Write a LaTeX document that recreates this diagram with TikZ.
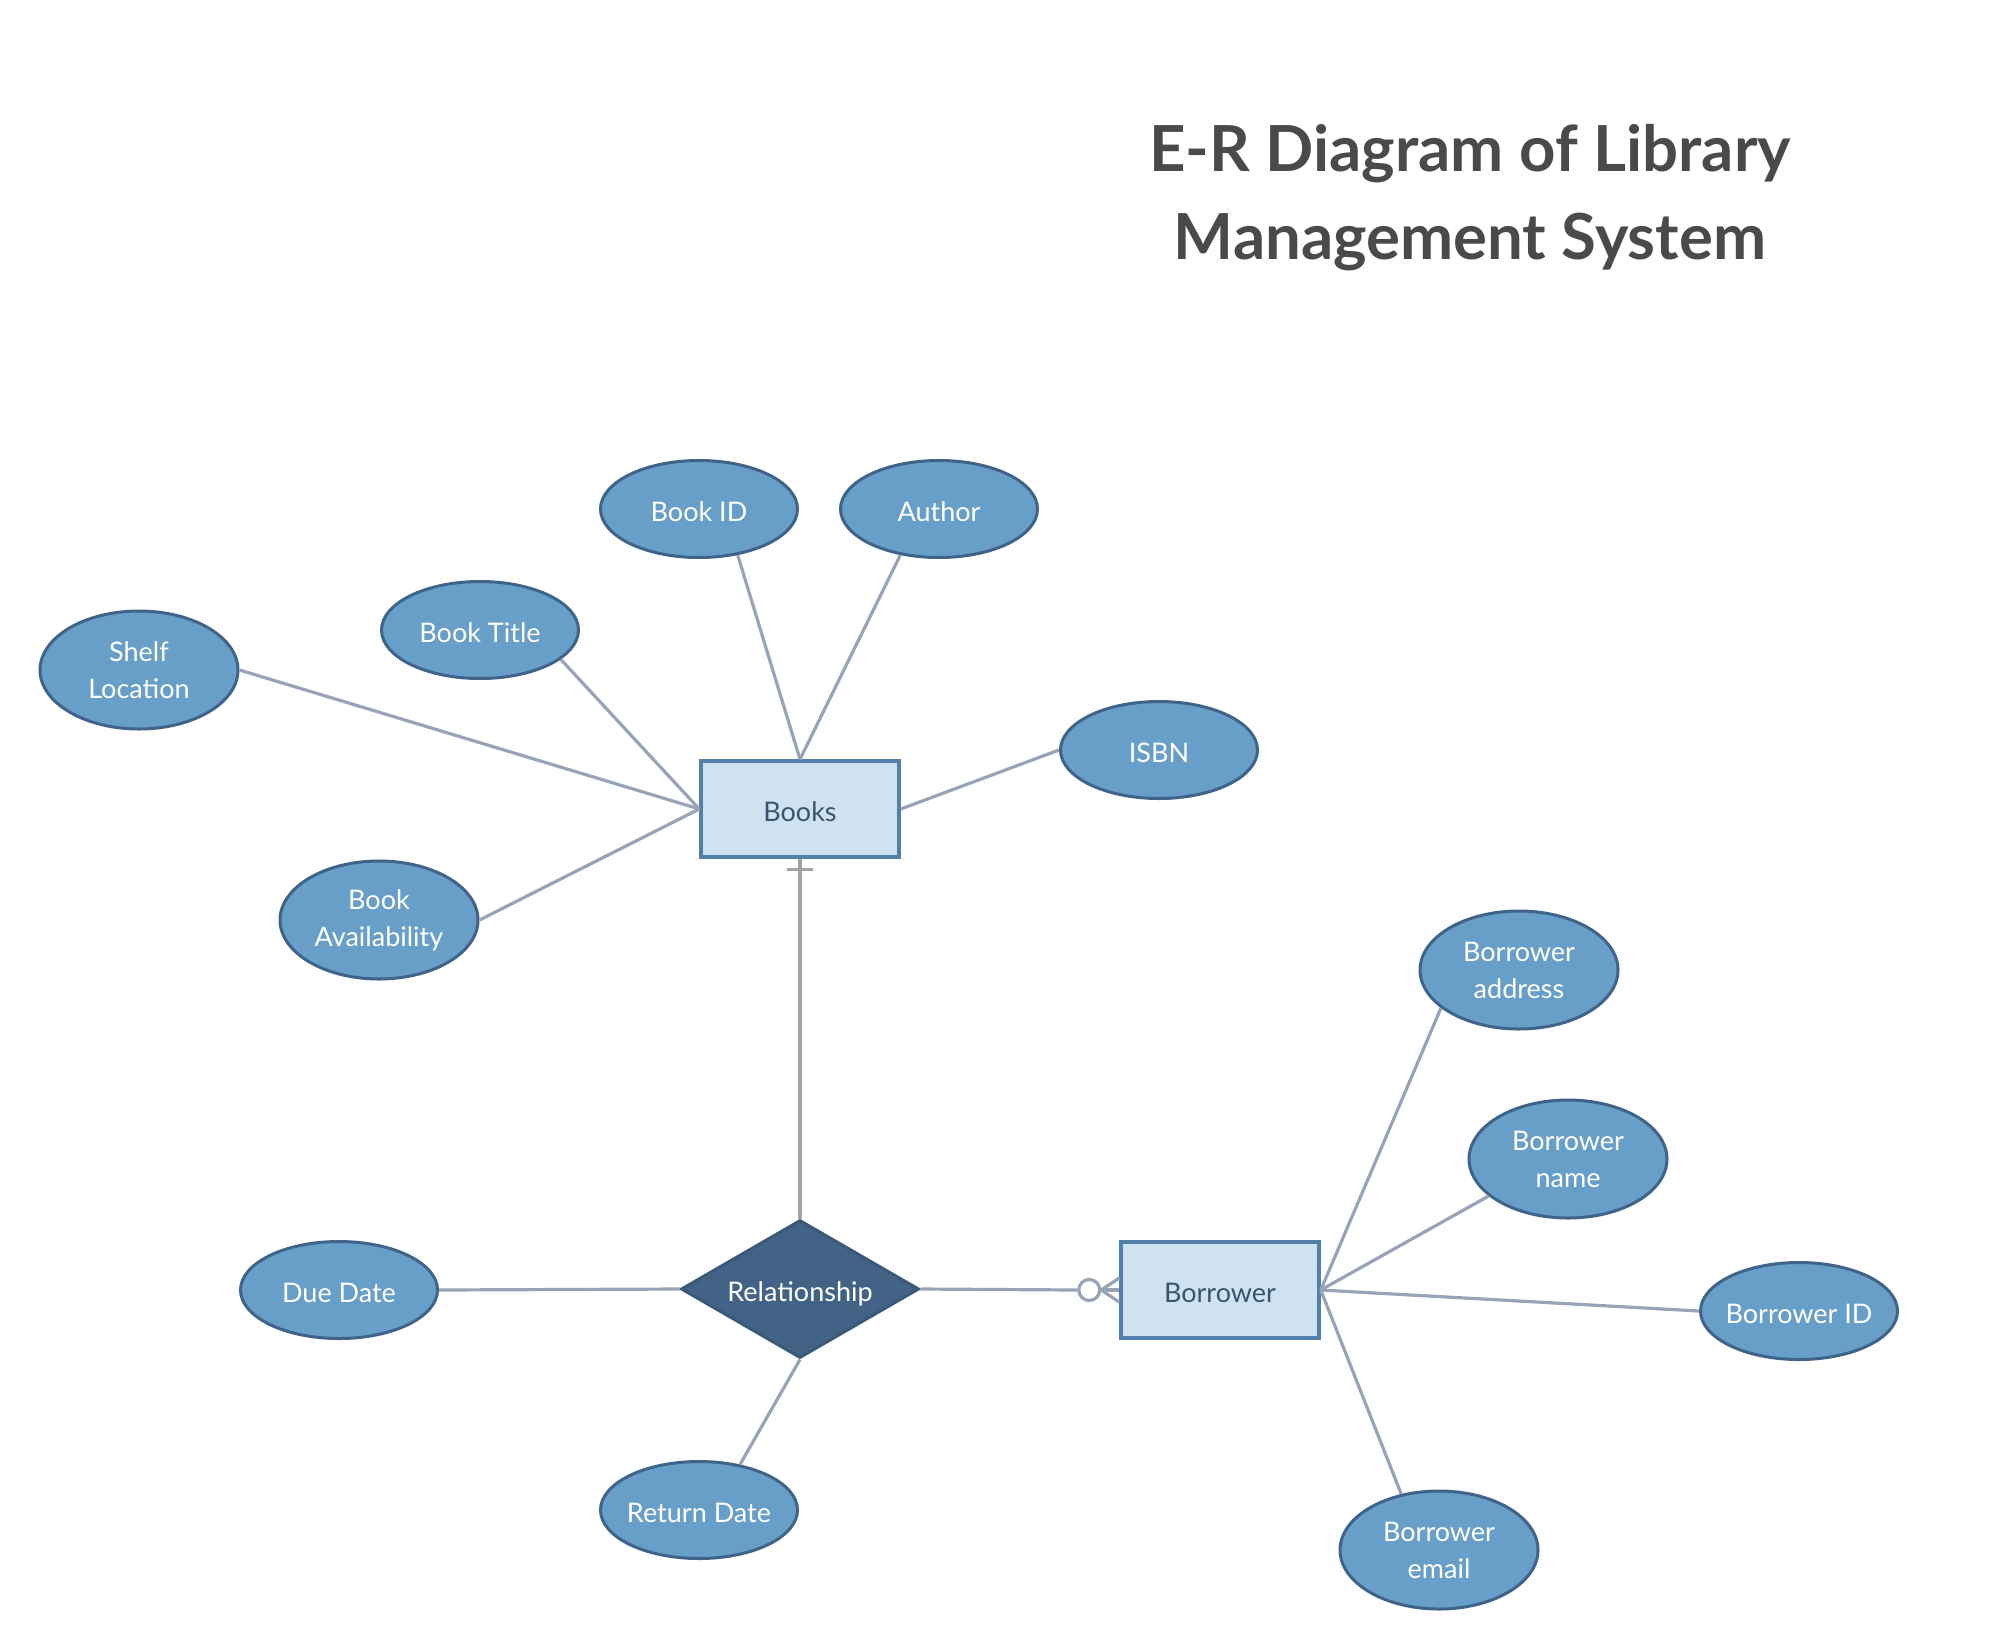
\documentclass[tikz,border=0pt]{standalone}
\usepackage{fontspec}
\setmainfont{Lato}
\usetikzlibrary{shapes.geometric,calc}
\definecolor{attrfill}{HTML}{679FC8}
\definecolor{attrborder}{HTML}{3F6389}
\definecolor{entfill}{HTML}{CFE2F0}
\definecolor{entborder}{HTML}{5280AA}
\definecolor{enttext}{HTML}{3A5470}
\definecolor{relfill}{HTML}{426385}
\definecolor{relborder}{HTML}{3A5A7A}
\definecolor{conncol}{HTML}{98A3B6}
\definecolor{onecol}{HTML}{A3A3A3}
\definecolor{titlecol}{HTML}{4A4A4A}
\tikzset{
  attrtwo/.style={ellipse, draw=attrborder, fill=attrfill, line width=3pt,
    minimum width=198pt, minimum height=118pt, inner ysep=0pt, inner xsep=-15pt, text=white,
    font=\fontsize{27}{37}\selectfont, align=center},
  attr/.style={attrtwo, minimum width=197pt, minimum height=97pt,
    text height=25.5pt, text depth=0pt},
  entity/.style={rectangle, draw=entborder, fill=entfill, line width=3.5pt,
    minimum width=198pt, minimum height=96pt, inner sep=0pt, text=enttext,
    font=\fontsize{27}{34}\selectfont, text height=25.5pt, text depth=0pt},
  rel/.style={diamond, draw=relborder, fill=relfill, line width=3pt,
    minimum width=238pt, minimum height=138pt, inner sep=0pt, aspect=1.72, text=white,
    font=\fontsize{27}{34}\selectfont, text height=25.5pt, text depth=0pt},
  conn/.style={draw=conncol, line width=3.2pt},
  onecon/.style={draw=onecol, line width=3.2pt},
}
\begin{document}
\begin{tikzpicture}[x=1pt,y=-1pt]
\useasboundingbox (0,0) rectangle (2001,1650);
\node[font=\fontsize{63.5}{88}\selectfont\bfseries, text=titlecol, align=center] (title) at (1470,198) {E-R Diagram of Library\\Management System};

\node[entity] (books) at (800,809) {Books};
\node[entity] (bor) at (1220,1290) {Borrower};
\node[rel] (rel) at (800,1289) {Relationship};

\node[attr] (bookid) at (699,509) {Book ID};
\node[attr] (author) at (939,509) {Author};
\node[attr] (title2) at (480,630) {Book Title};
\node[attrtwo] (shelf) at (139,670) {Shelf\\Location};
\node[attr] (isbn) at (1159,750) {ISBN};
\node[attrtwo] (avail) at (379,920) {Book\\Availability};
\node[attrtwo] (baddr) at (1519,970) {Borrower\\address};
\node[attrtwo] (bname) at (1568,1159) {Borrower\\name};
\node[attr] (bid) at (1799,1311) {Borrower ID};
\node[attrtwo] (bemail) at (1439,1550) {Borrower\\email};
\node[attr] (due) at (339,1290) {Due Date};
\node[attr] (ret) at (699,1510) {Return Date};

% connectors to Books
\draw[conn] (shelf.east) -- (books.west);
\draw[conn] (title2.-20) -- (books.west);
\draw[conn] (avail.east) -- (books.west);
\draw[conn] (bookid.-50) -- (books.north);
\draw[conn] (author.-130) -- (books.north);
\draw[conn] (isbn.west) -- (books.east);

% connectors to Borrower
\draw[conn] (baddr.-154) -- (bor.east);
\draw[conn] (bname.-155) -- (bor.east);
\draw[conn] (bid.west) -- (bor.east);
\draw[conn] (bemail.124) -- (bor.east);

% relationship connectors
\draw[conn] (due.east) -- (rel.west);
\draw[conn] (ret.48) -- (rel.south);
\draw[onecon] (books.south) -- (rel.north);
\draw[onecon] ($(books.south)+(-13,11)$) -- ($(books.south)+(13,11)$);

% zero-or-many crow's foot
\coordinate (cf) at ($(bor.west)+(-18,0)$);
\node[circle, draw=conncol, line width=3.2pt, fill=white, minimum size=21pt, inner sep=0pt] (zc) at ($(bor.west)+(-30,0)$) {};
\draw[conn] (rel.east) -- (zc.west);
\draw[conn] (zc.east) -- (bor.west);
\draw[conn] (cf) -- ($(bor.west)+(0,-12)$);
\draw[conn] (cf) -- ($(bor.west)+(0,12)$);
\end{tikzpicture}
\end{document}
